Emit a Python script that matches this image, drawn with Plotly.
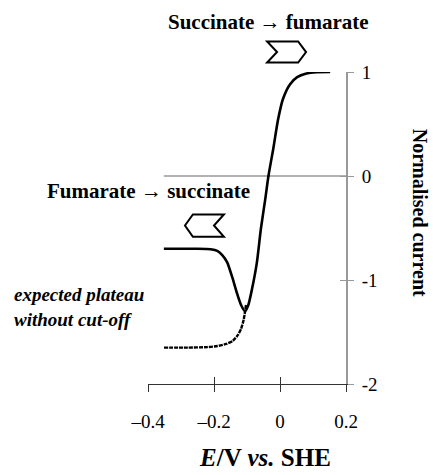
import plotly.graph_objects as go

# ---- data ----
solid_x = [-0.352, -0.30, -0.25, -0.21, -0.19, -0.175, -0.16, -0.145, -0.13, -0.118, -0.106,
           -0.096, -0.085, -0.07, -0.058, -0.045, -0.035, -0.02, -0.006, 0.009, 0.03, 0.052,
           0.08, 0.11, 0.152]
solid_y = [-0.70, -0.70, -0.70, -0.705, -0.72, -0.76, -0.83, -0.97, -1.13, -1.24, -1.30,
           -1.24, -1.09, -0.83, -0.51, -0.23, 0.0, 0.27, 0.54, 0.74, 0.88, 0.95,
           0.985, 0.998, 1.0]
dash_x = [-0.103, -0.110, -0.118, -0.128, -0.143, -0.163, -0.19, -0.22, -0.28, -0.354]
dash_y = [-1.24, -1.38, -1.47, -1.53, -1.585, -1.615, -1.635, -1.645, -1.65, -1.65]

x_ticks = [-0.4, -0.2, 0, 0.2]
x_ticktext = ["\u20130.4", "\u20130.2", "0", "0.2"]
y_ticks = [-2, -1, 0, 1]
y_ticktext = ["-2", "-1", "0", "1"]
X_RANGE = [-0.4, 0.2]
Y_RANGE = [-2, 1]
zero_line_start = -0.352

# chevron outlines in data units
chev_right_x = [-0.039, 0.055, 0.079, 0.055, -0.039, -0.009]
chev_right_y = [1.293, 1.293, 1.192, 1.091, 1.091, 1.192]
chev_left_x = [-0.288, -0.264, -0.170, -0.200, -0.170, -0.264]
chev_left_y = [-0.476, -0.37, -0.37, -0.476, -0.584, -0.584]

FONT = "Liberation Serif"


def px(v):
    return (v - X_RANGE[0]) / (X_RANGE[1] - X_RANGE[0])


def py(v):
    return (v - Y_RANGE[0]) / (Y_RANGE[1] - Y_RANGE[0])


def chev_path(xs, ys):
    pts = [f"{px(a):.4f},{py(b):.4f}" for a, b in zip(xs, ys)]
    return "M" + " L".join(pts) + " Z"


fig = go.Figure()
fig.add_trace(go.Scatter(x=solid_x, y=solid_y, mode="lines",
                         line=dict(color="black", width=2.6, shape="spline", smoothing=0.6),
                         showlegend=False, hoverinfo="skip"))
fig.add_trace(go.Scatter(x=dash_x, y=dash_y, mode="lines",
                         line=dict(color="black", width=2.4, dash="4px,1px", shape="spline", smoothing=0.6),
                         showlegend=False, hoverinfo="skip"))
# invisible traces to create overlay axes for crossing ticks
fig.add_trace(go.Scatter(x=[None], y=[None], xaxis="x2", yaxis="y", showlegend=False))
fig.add_trace(go.Scatter(x=[None], y=[None], xaxis="x", yaxis="y2", showlegend=False))

fig.add_shape(type="line", xref="x", yref="y", x0=zero_line_start, x1=X_RANGE[1], y0=0, y1=0,
              line=dict(color="#999999", width=1.5), layer="below")

for xs, ys in [(chev_right_x, chev_right_y), (chev_left_x, chev_left_y)]:
    fig.add_shape(type="path", xref="paper", yref="paper", path=chev_path(xs, ys),
                  line=dict(color="black", width=2), fillcolor="rgba(0,0,0,0)")

tickfont = dict(family=FONT, size=19, color="black")
xcommon = dict(range=X_RANGE, tickvals=x_ticks, showgrid=False, zeroline=False,
               tickcolor="#333333", tickwidth=1.3, ticklen=7)
ycommon = dict(range=Y_RANGE, tickvals=y_ticks, showgrid=False, zeroline=False,
               tickcolor="#999999", tickwidth=1.3, ticklen=6)

fig.update_layout(
    width=433, height=475, autosize=False,
    margin=dict(l=148, r=87, t=72, b=91, pad=0),
    paper_bgcolor="white", plot_bgcolor="white",
    font=dict(family=FONT),
    xaxis=dict(**xcommon, showline=True, linecolor="#333333", linewidth=1.3, ticks="outside",
               ticktext=x_ticktext, tickfont=tickfont, ticklabelstandoff=13, anchor="y"),
    xaxis2=dict(**xcommon, overlaying="x", matches="x", showline=False, ticks="inside",
                showticklabels=False, anchor="y"),
    yaxis=dict(**ycommon, side="right", showline=True, linecolor="#999999", linewidth=2,
               ticks="outside", ticktext=y_ticktext, tickfont=tickfont, ticklabelstandoff=4,
               anchor="x"),
    yaxis2=dict(**ycommon, overlaying="y", matches="y", side="right", showline=False,
                ticks="inside", showticklabels=False, anchor="x"),
)

bold = dict(family=FONT, size=21, color="black")
fig.add_annotation(xref="paper", yref="paper", x=0.61, y=1.159, text="<b>Succinate \u2192 fumarate</b>",
                   showarrow=False, font=bold, xanchor="center", yanchor="middle")
fig.add_annotation(xref="paper", yref="paper", x=0.0025, y=0.617, text="<b>Fumarate \u2192 succinate</b>",
                   showarrow=False, font=bold, xanchor="center", yanchor="middle")
fig.add_annotation(xref="paper", yref="paper", x=-0.687, y=0.247,
                   text="<b><i>expected plateau</i></b><br><b><i>without cut-off</i></b>",
                   showarrow=False, font=dict(family=FONT, size=19, color="black"),
                   xanchor="left", yanchor="middle", align="left")
fig.add_annotation(xref="paper", yref="paper", x=1.372, y=0.55, text="<b>Normalised current</b>",
                   showarrow=False, font=dict(family=FONT, size=20, color="black"),
                   textangle=90, xanchor="center", yanchor="middle")
fig.add_annotation(xref="paper", yref="paper", x=0.591, y=-0.237,
                   text="<b><i>E</i>/V <i>vs.</i> SHE</b>",
                   showarrow=False, font=dict(family=FONT, size=25, color="black"),
                   xanchor="center", yanchor="middle")

fig.write_html("out.html")
